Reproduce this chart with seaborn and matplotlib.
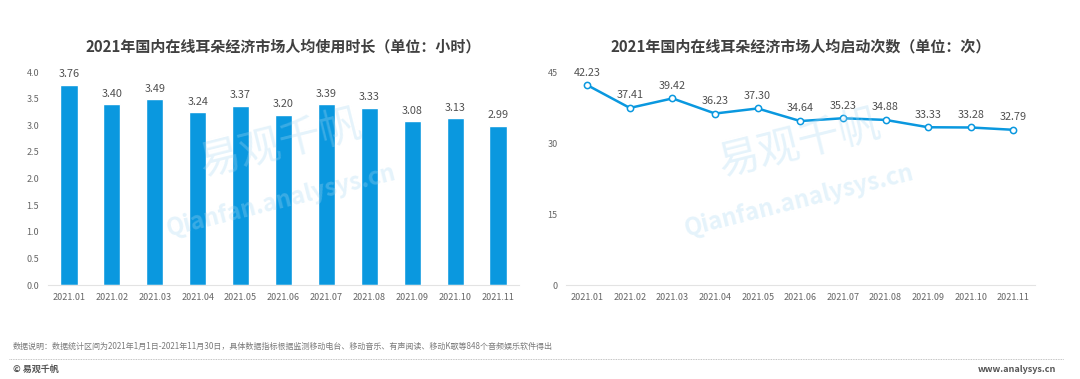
import pandas as pd
import matplotlib.pyplot as plt
import seaborn as sns

sns.set_theme(style="white")
plt.rcParams["font.family"] = ["Noto Sans CJK SC", "DejaVu Sans"]

months = ["2021.01", "2021.02", "2021.03", "2021.04", "2021.05", "2021.06",
          "2021.07", "2021.08", "2021.09", "2021.10", "2021.11"]
usage_hours = [3.76, 3.40, 3.49, 3.24, 3.37, 3.20, 3.39, 3.33, 3.08, 3.13, 2.99]
launch_count = [42.23, 37.41, 39.42, 36.23, 37.30, 34.64, 35.23, 34.88, 33.33, 33.28, 32.79]

title_left = "2021年国内在线耳朵经济市场人均使用时长（单位：小时）"
title_right = "2021年国内在线耳朵经济市场人均启动次数（单位：次）"
note = "数据说明：数据统计区间为2021年1月1日-2021年11月30日，具体数据指标根据监测移动电台、移动音乐、有声阅读、移动K歌等848个音频娱乐软件得出"

blue = "#0A98DF"
tick_col = "#666666"
title_col = "#404040"

df = pd.DataFrame({"month": months, "hours": usage_hours, "launch": launch_count})

fig = plt.figure(figsize=(10.8, 3.79), dpi=100)
ax1 = fig.add_axes([0.044, 0.248, 0.437, 0.562])
ax2 = fig.add_axes([0.524, 0.248, 0.434, 0.562])


def style_axis(ax):
    for s in ["top", "right", "left"]:
        ax.spines[s].set_visible(False)
    ax.spines["bottom"].set_color("#e3e3e3")
    ax.spines["bottom"].set_linewidth(0.8)
    ax.tick_params(axis="both", length=0, labelsize=6.5, labelcolor=tick_col, pad=6)
    ax.set_xlabel("")
    ax.set_ylabel("")
    ax.grid(False)


# left: bars
sns.barplot(data=df, x="month", y="hours", color=blue, width=0.4,
            saturation=1, ax=ax1)
ax1.set_ylim(0, 4.0)
ax1.set_xlim(-0.5, 10.5)
ax1.set_yticks([0, 0.5, 1.0, 1.5, 2.0, 2.5, 3.0, 3.5, 4.0])
ax1.set_yticklabels([f"{v:.1f}" for v in ax1.get_yticks()])
style_axis(ax1)
for i, v in enumerate(usage_hours):
    ax1.text(i, v + 0.1, f"{v:.2f}", ha="center", va="bottom", fontsize=7.8,
             color="#505050")
ax1.set_title(title_left, fontsize=10.8, fontweight="bold", color=title_col, pad=15)

# right: line
sns.lineplot(data=df, x="month", y="launch", color=blue, linewidth=1.8,
             marker="o", markersize=4.5, markerfacecolor="white",
             markeredgecolor=blue, markeredgewidth=1.1, sort=False, ax=ax2)
ax2.set_ylim(0, 45)
ax2.set_xlim(-0.5, 10.5)
ax2.set_yticks([0, 15, 30, 45])
style_axis(ax2)
for i, v in enumerate(launch_count):
    ax2.text(i, v + 1.6, f"{v:.2f}", ha="center", va="bottom", fontsize=7.8,
             color="#505050")
ax2.set_title(title_right, fontsize=10.8, fontweight="bold", color=title_col, pad=15)

# watermarks
for cx in [0.26, 0.74]:
    fig.text(cx, 0.62, "易观千帆", fontsize=30, color="#a8d8f2", alpha=0.3,
             rotation=14, ha="center", va="center")
    fig.text(cx, 0.47, "Qianfan.analysys.cn", fontsize=17, color="#a8d8f2",
             alpha=0.3, rotation=14, ha="center", va="center",
             fontweight="bold", style="italic")

# footer
fig.text(0.012, 0.087, note, fontsize=5.8, color="#7a7a7a", ha="left", va="center")
fig.add_artist(plt.Line2D([0.008, 0.985], [0.052, 0.052], transform=fig.transFigure,
                          color="#b0b0b0", linestyle=(0, (1, 1)), linewidth=0.6))
fig.text(0.012, 0.025, "© 易观千帆", fontsize=6.5, color="#555555", fontweight="bold",
         ha="left", va="center")
fig.text(0.978, 0.025, "www.analysys.cn", fontsize=6.5, color="#555555",
         fontweight="bold", ha="right", va="center")

fig.savefig("out.png", dpi=100, facecolor="white")
